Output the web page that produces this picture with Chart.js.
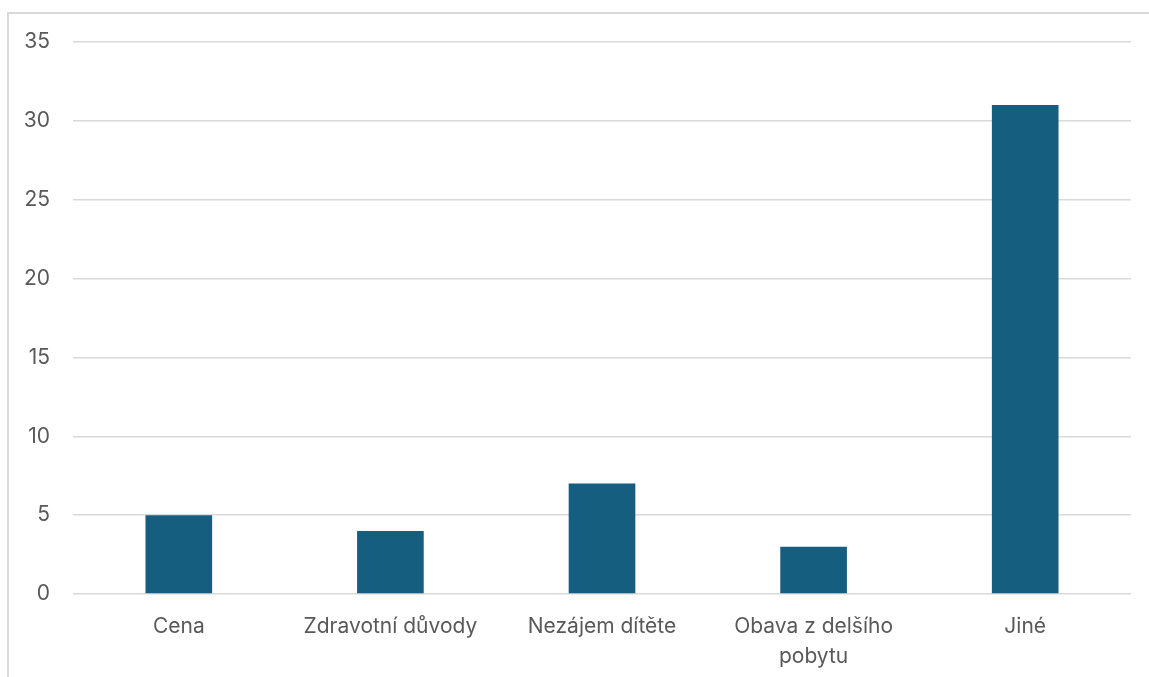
<!DOCTYPE html>
<html>
<head>
<meta charset="utf-8">
<script src="https://cdn.jsdelivr.net/npm/chart.js@4/dist/chart.umd.min.js"></script>
<style>
  html, body { margin: 0; padding: 0; background: #fff; overflow: hidden; }
  #wrap { position: relative; width: 1149px; height: 677px; }
  #frame {
    position: absolute; left: 7px; top: 12px; width: 1160px; height: 700px;
    border-top: 2px solid #d9d9d9; border-left: 2px solid #d9d9d9;
  }
  canvas { position: absolute; left: 0; top: 0; }
</style>
</head>
<body>
<div id="wrap">
  <div id="frame"></div>
  <canvas id="chart" width="1149" height="677"></canvas>
</div>
<script>
// Data
const categories = ['Cena', 'Zdravotní důvody', 'Nezájem dítěte', ['Obava z delšího', 'pobytu'], 'Jiné'];
const counts = [5, 4, 7, 3, 31];
const yMax = 35;
const yStep = 5;

const FONT = 'Inter, "Open Sans", sans-serif';

new Chart(document.getElementById('chart'), {
  type: 'bar',
  data: {
    labels: categories,
    datasets: [{
      data: counts,
      backgroundColor: '#165e80',
      categoryPercentage: 1,
      barPercentage: 0.315,
    }],
  },
  options: {
    responsive: false,
    animation: false,
    layout: { padding: { top: 42, right: 18, left: 0, bottom: 0 } },
    plugins: { legend: { display: false }, tooltip: { enabled: false } },
    scales: {
      x: {
        grid: { display: false },
        border: { display: false },
        afterFit: (s) => { s.height = 83; },
        ticks: {
          color: '#595959',
          padding: 10,
          maxRotation: 0,
          autoSkip: false,
          font: { family: FONT, size: 21, lineHeight: 1.43 },
        },
      },
      y: {
        min: 0,
        max: yMax,
        grid: { color: '#d9d9d9', lineWidth: 1.5, drawTicks: false },
        border: { display: false },
        afterFit: (s) => { s.width = 73; },
        ticks: {
          stepSize: yStep,
          color: '#595959',
          padding: 23,
          font: { family: FONT, size: 21 },
        },
      },
    },
  },
});
</script>
</body>
</html>
